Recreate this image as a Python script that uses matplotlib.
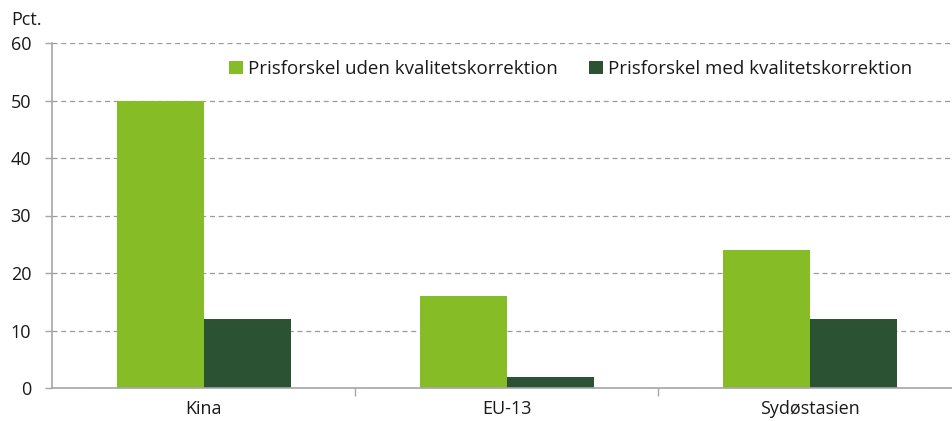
import matplotlib
matplotlib.use("Agg")
import matplotlib.pyplot as plt
import numpy as np

plt.rcParams['font.family'] = ['Open Sans', 'DejaVu Sans']

categories = ["Kina", "EU-13", "Sydøstasien"]
uden_korrektion = [50, 16, 24]
med_korrektion = [12, 2, 12]
series_labels = ["Prisforskel uden kvalitetskorrektion",
                 "Prisforskel med kvalitetskorrektion"]
yticks = [0, 10, 20, 30, 40, 50, 60]

light_green = "#86BC25"
dark_green = "#2C5234"
axis_grey = "#A6A6A6"
text_col = "#1A1A1A"
fs = 13

W, H = 952, 421
fig = plt.figure(figsize=(W / 100, H / 100), dpi=100)
ax = fig.add_axes([52 / W, 1 - 388 / H, 1 - 52 / W, (388 - 43) / H])

x = np.arange(len(categories))
bw = 0.287
ax.bar(x - bw / 2, uden_korrektion, bw, color=light_green, label=series_labels[0], zorder=3)
ax.bar(x + bw / 2, med_korrektion, bw, color=dark_green, label=series_labels[1], zorder=3)

ax.set_xlim(-0.5, 2.469)
ax.set_ylim(0, 60)
ax.set_yticks(yticks)
ax.set_yticklabels([str(v) for v in yticks], fontsize=fs, color=text_col)
ax.yaxis.grid(True, linestyle=(0, (4, 3)), color="#9A9A9A", linewidth=0.9, zorder=0)

# category labels centered, tick marks on category boundaries
ax.set_xticks([0.5, 1.5])
ax.set_xticklabels([])
ax.set_xticks(x, minor=True)
ax.set_xticklabels(categories, minor=True, fontsize=fs, color=text_col)
ax.tick_params(axis="x", which="major", length=6, width=1, color=axis_grey, direction="out")
ax.tick_params(axis="x", which="minor", length=0, pad=9)
ax.tick_params(axis="y", length=5, width=1, color=axis_grey, pad=10)

for side in ["top", "right"]:
    ax.spines[side].set_visible(False)
for side in ["left", "bottom"]:
    ax.spines[side].set_color(axis_grey)
    ax.spines[side].set_linewidth(1.2)
ax.spines["bottom"].set_zorder(4)

fig.text(11 / W, 1 - 20 / H, "Pct.", fontsize=fs, color=text_col, va="center", ha="left")

leg = ax.legend(loc="upper left", bbox_to_anchor=(229 / W, 1 - 60 / H),
                bbox_transform=fig.transFigure, ncol=2, frameon=False,
                fontsize=13.5, handlelength=0.72, handleheight=0.72,
                handletextpad=0.3, columnspacing=1.68, borderaxespad=0, borderpad=0)
for t in leg.get_texts():
    t.set_color(text_col)

fig.savefig("out.png", dpi=100)
